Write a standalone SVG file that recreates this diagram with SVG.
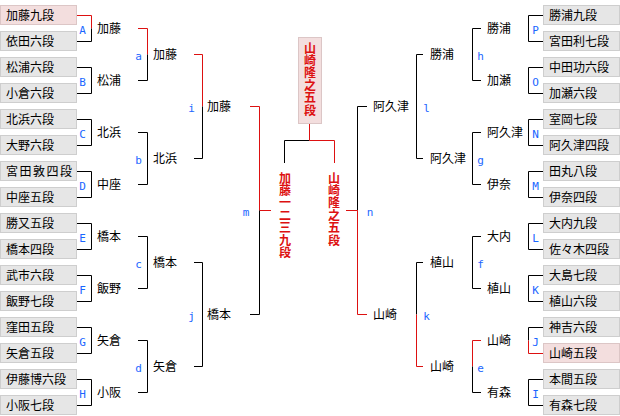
<svg xmlns="http://www.w3.org/2000/svg" width="620" height="416" viewBox="0 0 620 416">
<style>
.box{fill:#e6e6e6;stroke:#cecece;stroke-width:1}
.win{fill:#f3dede;stroke:#dcc6c6;stroke-width:1}
.t{font-family:"Noto Sans CJK JP","Noto Sans CJK SC",sans-serif;font-size:12px;fill:#000}
.lb{font-family:"DejaVu Sans Mono","Liberation Mono",monospace;font-size:11px;fill:#1a66ff;text-anchor:middle}
.k{fill:none;stroke:#000;stroke-width:1}
.r{fill:none;stroke:#dd1111;stroke-width:1}
.ft{font-family:"Noto Sans CJK JP","Noto Sans CJK SC",sans-serif;font-size:12px;font-weight:bold;fill:#dd1111;writing-mode:vertical-rl;text-orientation:upright;letter-spacing:0.4px}
</style>
<rect width="620" height="416" fill="#fff"/>
<g id="connectors">
<path class="r" d="M77 15.5H91.5V28.5"/><path class="k" d="M91.5 28.5V41.5H77"/>
<path class="k" d="M77 67.5H91.5V93.5H77"/>
<path class="k" d="M77 119.5H91.5V145.5H77"/>
<path class="k" d="M77 171.5H91.5V197.5H77"/>
<path class="k" d="M77 223.5H91.5V249.5H77"/>
<path class="k" d="M77 275.5H91.5V301.5H77"/>
<path class="k" d="M77 327.5H91.5V353.5H77"/>
<path class="k" d="M77 379.5H91.5V405.5H77"/>
<path class="r" d="M138 28.5H147.5V54.5"/><path class="k" d="M147.5 54.5V80.5H138"/>
<path class="k" d="M138 132.5H147.5V184.5H138"/>
<path class="k" d="M138 236.5H147.5V288.5H138"/>
<path class="k" d="M138 340.5H147.5V392.5H138"/>
<path class="r" d="M194 54.5H202.5V106.5"/><path class="k" d="M202.5 106.5V158.5H194"/>
<path class="k" d="M194 262.5H202.5V366.5H194"/>
<path class="r" d="M250 106.5H259.5V210.5H271"/><path class="k" d="M259.5 210.5V314.5H250"/>
<path class="k" d="M543 15.5H528.5V41.5H543"/>
<path class="k" d="M543 67.5H528.5V93.5H543"/>
<path class="k" d="M543 119.5H528.5V145.5H543"/>
<path class="k" d="M543 171.5H528.5V197.5H543"/>
<path class="k" d="M543 223.5H528.5V249.5H543"/>
<path class="k" d="M543 275.5H528.5V301.5H543"/>
<path class="k" d="M543 327.5H528.5V340.5"/><path class="r" d="M528.5 340.5V353.5H543"/>
<path class="k" d="M543 379.5H528.5V405.5H543"/>
<path class="k" d="M481 28.5H472.5V80.5H481"/>
<path class="k" d="M481 132.5H472.5V184.5H481"/>
<path class="k" d="M481 236.5H472.5V288.5H481"/>
<path class="r" d="M481 340.5H472.5V366.5"/><path class="k" d="M472.5 366.5V392.5H481"/>
<path class="k" d="M423 54.5H416.5V158.5H423"/>
<path class="k" d="M423 262.5H416.5V314.5"/><path class="r" d="M416.5 314.5V366.5H423"/>
<path class="k" d="M367 106.5H357.5V210.5"/><path class="r" d="M346 210.5H357.5V314.5H367"/>
<path class="k" d="M309.5 140.5H284.5V163"/><path class="r" d="M309.5 123V140.5H334.5V163"/>
</g>
<g id="left-players">
<g id="L1"><rect class="win" x="0.5" y="5.5" width="76" height="19"/><text class="t" x="6" y="19.5">加藤九段</text></g>
<g id="L2"><rect class="box" x="0.5" y="31.5" width="76" height="19"/><text class="t" x="6" y="45.5">依田六段</text></g>
<g id="L3"><rect class="box" x="0.5" y="57.5" width="76" height="19"/><text class="t" x="6" y="71.5">松浦六段</text></g>
<g id="L4"><rect class="box" x="0.5" y="83.5" width="76" height="19"/><text class="t" x="6" y="97.5">小倉六段</text></g>
<g id="L5"><rect class="box" x="0.5" y="109.5" width="76" height="19"/><text class="t" x="6" y="123.5">北浜六段</text></g>
<g id="L6"><rect class="box" x="0.5" y="135.5" width="76" height="19"/><text class="t" x="6" y="149.5">大野六段</text></g>
<g id="L7"><rect class="box" x="0.5" y="161.5" width="76" height="19"/><text class="t" x="6" y="175.5" textLength="66">宮田敦四段</text></g>
<g id="L8"><rect class="box" x="0.5" y="187.5" width="76" height="19"/><text class="t" x="6" y="201.5">中座五段</text></g>
<g id="L9"><rect class="box" x="0.5" y="213.5" width="76" height="19"/><text class="t" x="6" y="227.5">勝又五段</text></g>
<g id="L10"><rect class="box" x="0.5" y="239.5" width="76" height="19"/><text class="t" x="6" y="253.5">橋本四段</text></g>
<g id="L11"><rect class="box" x="0.5" y="265.5" width="76" height="19"/><text class="t" x="6" y="279.5">武市六段</text></g>
<g id="L12"><rect class="box" x="0.5" y="291.5" width="76" height="19"/><text class="t" x="6" y="305.5">飯野七段</text></g>
<g id="L13"><rect class="box" x="0.5" y="317.5" width="76" height="19"/><text class="t" x="6" y="331.5">窪田五段</text></g>
<g id="L14"><rect class="box" x="0.5" y="343.5" width="76" height="19"/><text class="t" x="6" y="357.5">矢倉五段</text></g>
<g id="L15"><rect class="box" x="0.5" y="369.5" width="76" height="19"/><text class="t" x="6" y="383.5">伊藤博六段</text></g>
<g id="L16"><rect class="box" x="0.5" y="395.5" width="76" height="19"/><text class="t" x="6" y="409.5">小阪七段</text></g>
</g>
<g id="right-players">
<g id="R1"><rect class="box" x="543.5" y="5.5" width="76" height="19"/><text class="t" x="549" y="19.5">勝浦九段</text></g>
<g id="R2"><rect class="box" x="543.5" y="31.5" width="76" height="19"/><text class="t" x="549" y="45.5">宮田利七段</text></g>
<g id="R3"><rect class="box" x="543.5" y="57.5" width="76" height="19"/><text class="t" x="549" y="71.5">中田功六段</text></g>
<g id="R4"><rect class="box" x="543.5" y="83.5" width="76" height="19"/><text class="t" x="549" y="97.5">加瀬六段</text></g>
<g id="R5"><rect class="box" x="543.5" y="109.5" width="76" height="19"/><text class="t" x="549" y="123.5">室岡七段</text></g>
<g id="R6"><rect class="box" x="543.5" y="135.5" width="76" height="19"/><text class="t" x="549" y="149.5">阿久津四段</text></g>
<g id="R7"><rect class="box" x="543.5" y="161.5" width="76" height="19"/><text class="t" x="549" y="175.5">田丸八段</text></g>
<g id="R8"><rect class="box" x="543.5" y="187.5" width="76" height="19"/><text class="t" x="549" y="201.5">伊奈四段</text></g>
<g id="R9"><rect class="box" x="543.5" y="213.5" width="76" height="19"/><text class="t" x="549" y="227.5">大内九段</text></g>
<g id="R10"><rect class="box" x="543.5" y="239.5" width="76" height="19"/><text class="t" x="549" y="253.5">佐々木四段</text></g>
<g id="R11"><rect class="box" x="543.5" y="265.5" width="76" height="19"/><text class="t" x="549" y="279.5">大島七段</text></g>
<g id="R12"><rect class="box" x="543.5" y="291.5" width="76" height="19"/><text class="t" x="549" y="305.5">植山六段</text></g>
<g id="R13"><rect class="box" x="543.5" y="317.5" width="76" height="19"/><text class="t" x="549" y="331.5">神吉六段</text></g>
<g id="R14"><rect class="win" x="543.5" y="343.5" width="76" height="19"/><text class="t" x="549" y="357.5">山崎五段</text></g>
<g id="R15"><rect class="box" x="543.5" y="369.5" width="76" height="19"/><text class="t" x="549" y="383.5">本間五段</text></g>
<g id="R16"><rect class="box" x="543.5" y="395.5" width="76" height="19"/><text class="t" x="549" y="409.5">有森七段</text></g>
</g>
<g id="left-matches">
<g id="mA"><text class="lb" x="82.5" y="33.5">A</text><text class="t" x="97" y="32.5">加藤</text></g>
<g id="mB"><text class="lb" x="82.5" y="85.5">B</text><text class="t" x="97" y="84.5">松浦</text></g>
<g id="mC"><text class="lb" x="82.5" y="137.5">C</text><text class="t" x="97" y="136.5">北浜</text></g>
<g id="mD"><text class="lb" x="82.5" y="189.5">D</text><text class="t" x="97" y="188.5">中座</text></g>
<g id="mE"><text class="lb" x="82.5" y="241.5">E</text><text class="t" x="97" y="240.5">橋本</text></g>
<g id="mF"><text class="lb" x="82.5" y="293.5">F</text><text class="t" x="97" y="292.5">飯野</text></g>
<g id="mG"><text class="lb" x="82.5" y="345.5">G</text><text class="t" x="97" y="344.5">矢倉</text></g>
<g id="mH"><text class="lb" x="82.5" y="397.5">H</text><text class="t" x="97" y="396.5">小阪</text></g>
<g id="ma"><text class="lb" x="138.5" y="59.5">a</text><text class="t" x="153" y="58.5">加藤</text></g>
<g id="mb"><text class="lb" x="138.5" y="163.5">b</text><text class="t" x="153" y="162.5">北浜</text></g>
<g id="mc"><text class="lb" x="138.5" y="267.5">c</text><text class="t" x="153" y="266.5">橋本</text></g>
<g id="md"><text class="lb" x="138.5" y="371.5">d</text><text class="t" x="153" y="370.5">矢倉</text></g>
<g id="mi"><text class="lb" x="191.5" y="111.5">i</text><text class="t" x="207" y="110.5">加藤</text></g>
<g id="mj"><text class="lb" x="191.5" y="319.5">j</text><text class="t" x="207" y="318.5">橋本</text></g>
<g id="mm"><text class="lb" x="246" y="215.5">m</text></g>
</g>
<g id="right-matches">
<g id="mP"><text class="lb" x="535.5" y="33.5">P</text><text class="t" x="487" y="32.5">勝浦</text></g>
<g id="mO"><text class="lb" x="535.5" y="85.5">O</text><text class="t" x="487" y="84.5">加瀬</text></g>
<g id="mN"><text class="lb" x="535.5" y="137.5">N</text><text class="t" x="487" y="136.5">阿久津</text></g>
<g id="mM"><text class="lb" x="535.5" y="189.5">M</text><text class="t" x="487" y="188.5">伊奈</text></g>
<g id="mL"><text class="lb" x="535.5" y="241.5">L</text><text class="t" x="487" y="240.5">大内</text></g>
<g id="mK"><text class="lb" x="535.5" y="293.5">K</text><text class="t" x="487" y="292.5">植山</text></g>
<g id="mJ"><text class="lb" x="535.5" y="345.5">J</text><text class="t" x="487" y="344.5">山崎</text></g>
<g id="mI"><text class="lb" x="535.5" y="397.5">I</text><text class="t" x="487" y="396.5">有森</text></g>
<g id="mh"><text class="lb" x="480.5" y="59.5">h</text><text class="t" x="430" y="58.5">勝浦</text></g>
<g id="mg"><text class="lb" x="480.5" y="163.5">g</text><text class="t" x="430" y="162.5">阿久津</text></g>
<g id="mf"><text class="lb" x="480.5" y="267.5">f</text><text class="t" x="430" y="266.5">植山</text></g>
<g id="me"><text class="lb" x="480.5" y="371.5">e</text><text class="t" x="430" y="370.5">山崎</text></g>
<g id="ml"><text class="lb" x="426.5" y="111.5">l</text><text class="t" x="373" y="110.5">阿久津</text></g>
<g id="mk"><text class="lb" x="426.5" y="319.5">k</text><text class="t" x="373" y="318.5">山崎</text></g>
<g id="mn"><text class="lb" x="370" y="215.5">n</text></g>
</g>
<g id="champion">
<rect class="win" x="298.5" y="37.5" width="23" height="86"/>
<text class="ft" x="310" y="42">山崎隆之五段</text>
</g>
<g id="finalist-left">
<text class="ft" x="285" y="172">加藤一二三九段</text>
</g>
<g id="finalist-right">
<text class="ft" x="334" y="172">山崎隆之五段</text>
</g>
</svg>
